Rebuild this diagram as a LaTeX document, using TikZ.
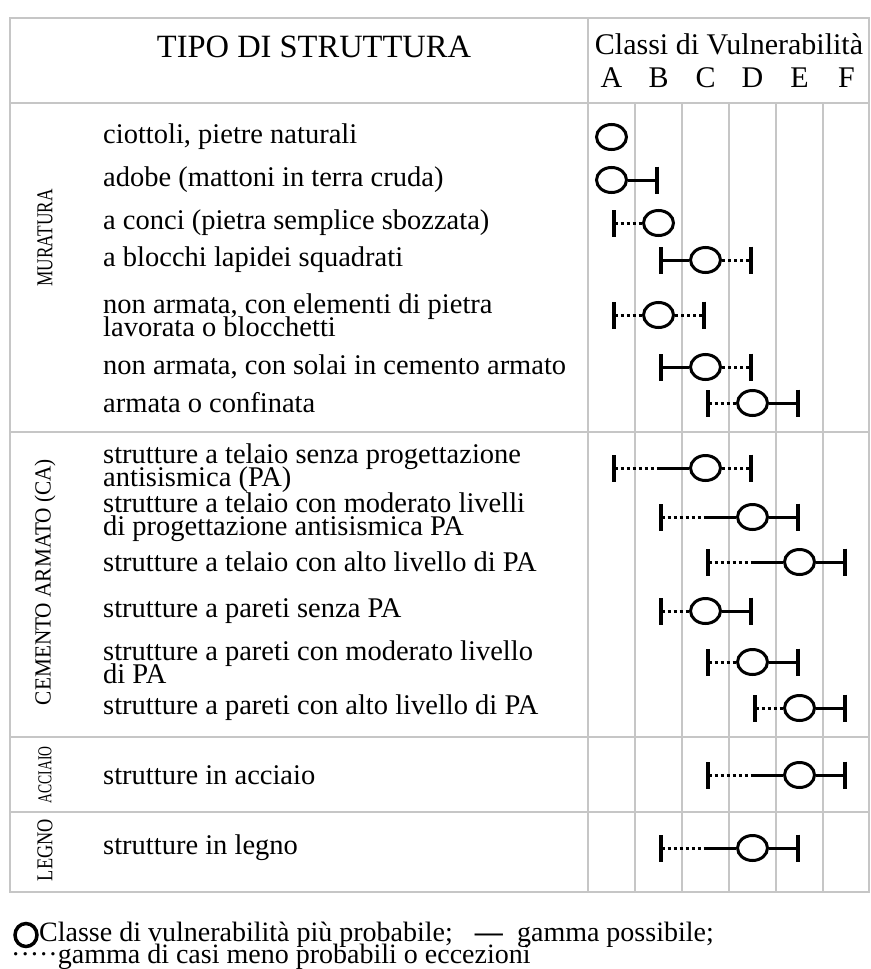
\documentclass[tikz,border=0pt]{standalone}
\usepackage{fontspec}
\setmainfont{Liberation Serif}
\usetikzlibrary{arrows.meta,shapes.geometric}
\newcommand{\itemfont}{\fontsize{28.5}{23.5}\selectfont\setlength{\lineskiplimit}{-50pt}}

\begin{document}
\begin{tikzpicture}[x=1pt, y=-1pt,
    tablerule/.style={draw=gray!45, line width=2pt},
    item/.style={anchor=west, align=left, inner sep=0pt, font=\itemfont},
    headtext/.style={inner sep=0pt, font=\fontsize{30}{30}\selectfont},
    grouplabel/.style={rotate=90, inner sep=0pt},
    likely/.style={draw, ellipse, line width=3pt, minimum width=30pt, minimum height=25pt, inner sep=0pt},
    solidspan/.style={line width=3pt},
    rarespan/.style={line width=3pt, dash pattern=on 3pt off 3pt},
    endbar/.tip={Bar[width=27pt, line width=4pt]},
    keytext/.style={anchor=west, inner sep=0pt, font=\fontsize{28}{28}\selectfont}]

    \useasboundingbox (0,0) rectangle (870,969);

    \draw[tablerule] (10,18) rectangle (869,892);
    \draw[tablerule] (10,103) -- (869,103);
    \draw[tablerule] (10,432) -- (869,432);
    \draw[tablerule] (10,737) -- (869,737);
    \draw[tablerule] (10,812) -- (869,812);
    \draw[tablerule] (588,18) -- (588,892);
    \draw[tablerule] (635,103) -- (635,892);
    \draw[tablerule] (682,103) -- (682,892);
    \draw[tablerule] (729,103) -- (729,892);
    \draw[tablerule] (776,103) -- (776,892);
    \draw[tablerule] (823,103) -- (823,892);

    \node[headtext, font=\fontsize{32.5}{32}\selectfont] (tipo) at (314,47) {TIPO DI STRUTTURA};
    \node[headtext] (classi) at (729,44) {Classi di Vulnerabilità};
    \node[headtext] (colA) at (611.5,78) {A};
    \node[headtext] (colB) at (658.5,78) {B};
    \node[headtext] (colC) at (705.5,78) {C};
    \node[headtext] (colD) at (752.5,78) {D};
    \node[headtext] (colE) at (799.5,78) {E};
    \node[headtext] (colF) at (846.5,78) {F};

    \node[grouplabel] (muratura) at (45,238) {\resizebox{97pt}{15pt}{MURATURA}};
    \node[grouplabel] (cemento) at (45,582) {\resizebox{246pt}{16pt}{CEMENTO ARMATO (CA)}};
    \node[grouplabel] (acciaio) at (45,775) {\resizebox{57pt}{13pt}{ACCIAIO}};
    \node[grouplabel] (legno) at (45,850) {\resizebox{62pt}{15pt}{LEGNO}};

    \node[item] (t1) at (103,137) {ciottoli, pietre naturali};
    \node[likely] (o1) at (colA |- t1) {};

    \node[item] (t2) at (103,180) {adobe (mattoni in terra cruda)};
    \node[likely] (o2) at (colA |- t2) {};
    \draw[solidspan, -endbar] (o2) -- (colB |- t2);

    \node[item] (t3) at (103,223) {a conci (pietra semplice sbozzata)};
    \node[likely] (o3) at (colB |- t3) {};
    \draw[rarespan, endbar-] (colA |- t3) -- (o3);

    \node[item] (t4) at (103,260) {a blocchi lapidei squadrati};
    \node[likely] (o4) at (colC |- t4) {};
    \draw[solidspan, endbar-] (colB |- t4) -- (o4);
    \draw[rarespan, -endbar] (o4) -- (colD |- t4);

    \node[item] (t5) at (103,315) {non armata, con elementi di pietra\\lavorata o blocchetti};
    \node[likely] (o5) at (colB |- t5) {};
    \draw[rarespan, endbar-] (colA |- t5) -- (o5);
    \draw[rarespan, -endbar] (o5) -- (colC |- t5);

    \node[item] (t6) at (103,367) {non armata, con solai in cemento armato};
    \node[likely] (o6) at (colC |- t6) {};
    \draw[solidspan, endbar-] (colB |- t6) -- (o6);
    \draw[rarespan, -endbar] (o6) -- (colD |- t6);

    \node[item] (t7) at (103,403) {armata o confinata};
    \node[likely] (o7) at (colD |- t7) {};
    \draw[rarespan, endbar-] (colC |- t7) -- (o7);
    \draw[solidspan, -endbar] (o7) -- (colE |- t7);

    \node[item] (t8) at (103,468) {strutture a telaio senza progettazione\\antisismica (PA)};
    \node[likely] (o8) at (colC |- t8) {};
    \draw[rarespan, endbar-] (colA |- t8) -- (colB |- t8);
    \draw[solidspan] (colB |- t8) -- (o8);
    \draw[rarespan, -endbar] (o8) -- (colD |- t8);

    \node[item] (t9) at (103,517) {strutture a telaio con moderato livelli\\di progettazione antisismica PA};
    \node[likely] (o9) at (colD |- t9) {};
    \draw[rarespan, endbar-] (colB |- t9) -- (colC |- t9);
    \draw[solidspan] (colC |- t9) -- (o9);
    \draw[solidspan, -endbar] (o9) -- (colE |- t9);

    \node[item] (t10) at (103,562) {strutture a telaio con alto livello di PA};
    \node[likely] (o10) at (colE |- t10) {};
    \draw[rarespan, endbar-] (colC |- t10) -- (colD |- t10);
    \draw[solidspan] (colD |- t10) -- (o10);
    \draw[solidspan, -endbar] (o10) -- (colF |- t10);

    \node[item] (t11) at (103,611) {strutture a pareti senza PA};
    \node[likely] (o11) at (colC |- t11) {};
    \draw[rarespan, endbar-] (colB |- t11) -- (o11);
    \draw[solidspan, -endbar] (o11) -- (colD |- t11);

    \node[item] (t12) at (103,662) {strutture a pareti con moderato livello\\di PA};
    \node[likely] (o12) at (colD |- t12) {};
    \draw[rarespan, endbar-] (colC |- t12) -- (o12);
    \draw[solidspan, -endbar] (o12) -- (colE |- t12);

    \node[item] (t13) at (103,708) {strutture a pareti con alto livello di PA};
    \node[likely] (o13) at (colE |- t13) {};
    \draw[rarespan, endbar-] (colD |- t13) -- (o13);
    \draw[solidspan, -endbar] (o13) -- (colF |- t13);

    \node[item] (t14) at (103,775) {strutture in acciaio};
    \node[likely] (o14) at (colE |- t14) {};
    \draw[rarespan, endbar-] (colC |- t14) -- (colD |- t14);
    \draw[solidspan] (colD |- t14) -- (o14);
    \draw[solidspan, -endbar] (o14) -- (colF |- t14);

    \node[item] (t15) at (103,848) {strutture in legno};
    \node[likely] (o15) at (colD |- t15) {};
    \draw[rarespan, endbar-] (colB |- t15) -- (colC |- t15);
    \draw[solidspan] (colC |- t15) -- (o15);
    \draw[solidspan, -endbar] (o15) -- (colE |- t15);

    \node[likely, minimum width=22pt, minimum height=23pt, line width=3.5pt] (key) at (26,935) {};
    \node[keytext] (leg1) at (39,935) {Classe di vulnerabilità più probabile;\hspace{22pt}\textbf{—}\hspace{14pt}gamma possibile;};
    \node[keytext] (leg2) at (11,957) {·····gamma di casi meno probabili o eccezioni};

\end{tikzpicture}
\end{document}
